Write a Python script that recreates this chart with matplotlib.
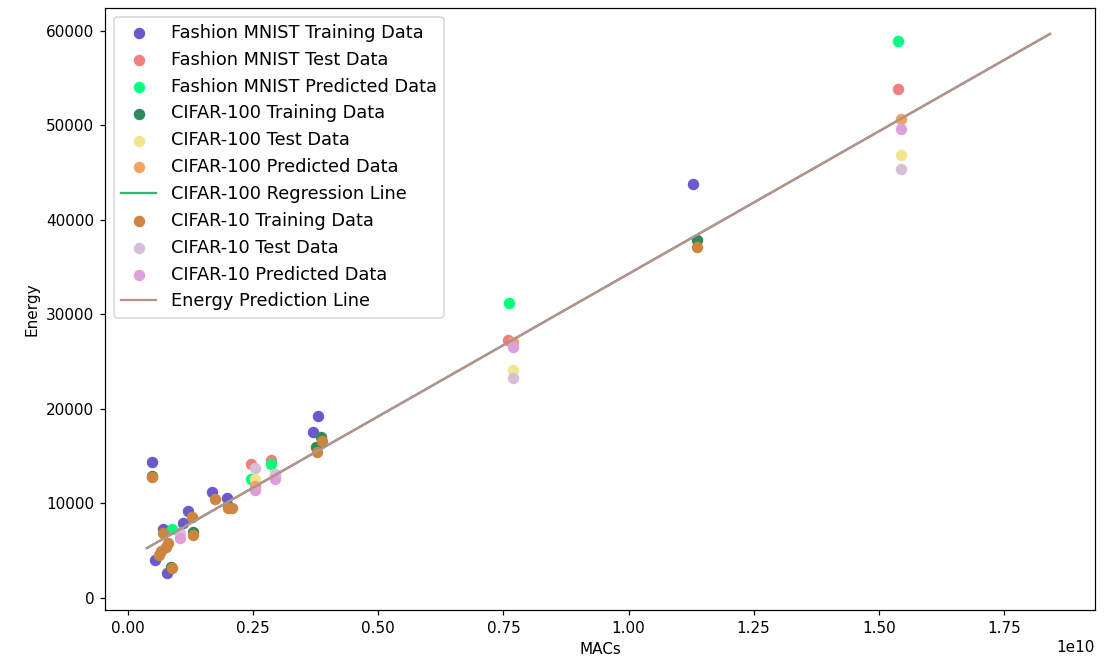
import numpy as np
import matplotlib
matplotlib.use('Agg')
import matplotlib.pyplot as plt

# MACs in units of 1e10, energy
fm_train_x = [0.048, 0.054, 0.069, 0.077, 0.110, 0.119, 0.167, 0.197, 0.370, 0.380, 1.129]
fm_train_e = [14400, 4020, 7270, 2610, 7900, 9240, 11250, 10550, 17600, 19290, 43780]
fm_test_x = [0.245, 0.285, 0.760, 1.539]
fm_test_e = [14180, 14600, 27300, 53860]
fm_pred_x = [0.087, 0.245, 0.285, 0.762, 1.539]
fm_pred_e = [7270, 12590, 14180, 31180, 58940]

c100_train_x = [0.048, 0.086, 0.130, 0.200, 0.376, 0.386, 1.136]
c100_train_e = [12950, 3300, 7000, 9700, 16000, 17000, 37880]
c100_test_x = [0.254, 0.294, 0.770, 1.544]
c100_test_e = [12590, 13120, 24130, 46880]
c100_pred_x = [0.254, 0.294, 0.770, 1.544]
c100_pred_e = [11900, 13000, 27120, 50660]

c10_train_x = [0.048, 0.061, 0.065, 0.070, 0.075, 0.080, 0.087, 0.127, 0.130,
               0.174, 0.200, 0.207, 0.378, 0.387, 1.136]
c10_train_e = [12770, 4550, 5000, 6840, 5400, 5800, 3140, 8600, 6700,
               10476, 9520, 9520, 15480, 16600, 37110]
c10_test_x = [0.104, 0.254, 0.294, 0.770, 1.544]
c10_test_e = [6900, 13720, 13120, 23250, 45400]
c10_pred_x = [0.104, 0.254, 0.294, 0.770, 1.544]
c10_pred_e = [6320, 11430, 12590, 26600, 49600]

line_x = [0.038, 1.842]
line_e = [5290, 59680]

scale = 1e10

fig, ax = plt.subplots(figsize=(1105 / 110, 657 / 110), dpi=110)
fig.subplots_adjust(left=0.095, right=0.991, bottom=0.0715, top=0.988)

def sc(xs, es, color, label):
    ax.scatter(np.array(xs) * scale, es, color=color, s=42, label=label)

sc(fm_train_x, fm_train_e, 'slateblue', 'Fashion MNIST Training Data')
sc(fm_test_x, fm_test_e, 'lightcoral', 'Fashion MNIST Test Data')
sc(fm_pred_x, fm_pred_e, 'springgreen', 'Fashion MNIST Predicted Data')
sc(c100_train_x, c100_train_e, 'seagreen', 'CIFAR-100 Training Data')
sc(c100_test_x, c100_test_e, 'khaki', 'CIFAR-100 Test Data')
sc(c100_pred_x, c100_pred_e, 'sandybrown', 'CIFAR-100 Predicted Data')
ax.plot(np.array(line_x) * scale, line_e, color='mediumseagreen', label='CIFAR-100 Regression Line')
sc(c10_train_x, c10_train_e, 'peru', 'CIFAR-10 Training Data')
sc(c10_test_x, c10_test_e, 'thistle', 'CIFAR-10 Test Data')
sc(c10_pred_x, c10_pred_e, 'plum', 'CIFAR-10 Predicted Data')
ax.plot(np.array(line_x) * scale, line_e, color='rosybrown', label='Energy Prediction Line')

ax.set_xlim(-0.046 * scale, 1.932 * scale)
ax.set_ylim(-1270, 62430)
ax.set_xlabel('MACs')
ax.set_ylabel('Energy')
ax.legend(loc='upper left', fontsize=11.6)

plt.savefig('out.png', dpi=110)
